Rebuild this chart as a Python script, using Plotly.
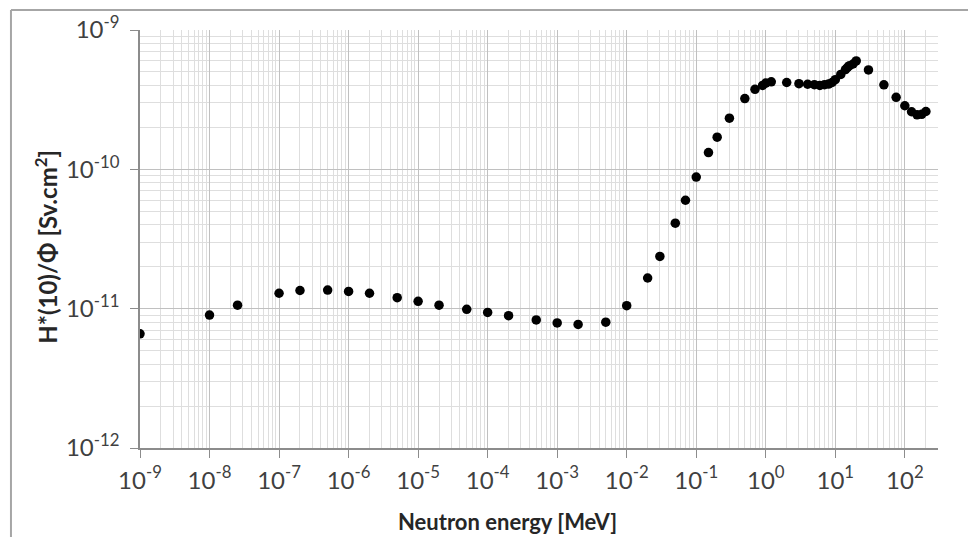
import plotly.graph_objects as go

# Neutron energy [MeV]
energy = [1e-9, 1e-8, 2.53e-8, 1e-7, 2e-7, 5e-7, 1e-6, 2e-6, 5e-6, 1e-5, 2e-5, 5e-5,
          1e-4, 2e-4, 5e-4, 1e-3, 2e-3, 5e-3, 1e-2, 2e-2, 3e-2, 5e-2, 7e-2, 0.1,
          0.15, 0.2, 0.3, 0.5, 0.7, 0.9, 1.0, 1.2, 2.0, 3.0, 4.0, 5.0, 6.0, 7.0,
          8.0, 9.0, 10.0, 12.0, 14.0, 15.0, 16.0, 18.0, 20.0,
          30.0, 50.0, 75.0, 100.0, 125.0, 150.0, 175.0, 201.0]
# H*(10)/Phi [Sv.cm2]
h10 = [6.60e-12, 9.00e-12, 1.06e-11, 1.29e-11, 1.35e-11, 1.36e-11, 1.33e-11, 1.29e-11,
       1.20e-11, 1.13e-11, 1.06e-11, 9.90e-12, 9.40e-12, 8.90e-12, 8.30e-12, 7.90e-12,
       7.70e-12, 8.00e-12, 1.05e-11, 1.66e-11, 2.37e-11, 4.11e-11, 6.00e-11, 8.80e-11,
       1.32e-10, 1.70e-10, 2.33e-10, 3.22e-10, 3.75e-10, 4.00e-10, 4.16e-10, 4.25e-10,
       4.20e-10, 4.12e-10, 4.08e-10, 4.05e-10, 4.00e-10, 4.05e-10, 4.09e-10, 4.20e-10,
       4.40e-10, 4.80e-10, 5.20e-10, 5.40e-10, 5.55e-10, 5.70e-10, 6.00e-10,
       5.17e-10, 4.04e-10, 3.29e-10, 2.86e-10, 2.59e-10, 2.46e-10, 2.48e-10, 2.60e-10]

x_tickvals = [1e-9, 1e-8, 1e-7, 1e-6, 1e-5, 1e-4, 1e-3, 1e-2, 1e-1, 1e0, 1e1, 1e2]
x_ticktext = ["10<sup>-9</sup>", "10<sup>-8</sup>", "10<sup>-7</sup>", "10<sup>-6</sup>",
              "10<sup>-5</sup>", "10<sup>-4</sup>", "10<sup>-3</sup>", "10<sup>-2</sup>",
              "10<sup>-1</sup>", "10<sup>0</sup>", "10<sup>1</sup>", "10<sup>2</sup>"]
y_tickvals = [1e-12, 1e-11, 1e-10, 1e-9]
y_ticktext = ["10<sup>-12</sup>", "10<sup>-11</sup>", "10<sup>-10</sup>", "10<sup>-9</sup>"]

x_title = "Neutron energy [MeV]"
y_title = "H*(10)/Φ [Sv.cm<sup>2</sup>]"

FONT = "Lato, 'Open Sans', sans-serif"
MAJOR = "#c0c0c0"
MINOR = "#dedede"
AXIS = "#8c8c8c"
TICKFONT = dict(size=24, family=FONT, color="#404040")

fig = go.Figure()
fig.add_trace(go.Scatter(
    x=energy, y=h10, mode="markers",
    marker=dict(color="black", size=9.5),
    showlegend=False,
))

fig.update_layout(
    width=968, height=537,
    margin=dict(l=140, r=30, t=30, b=89),
    paper_bgcolor="white", plot_bgcolor="white",
    font=dict(family=FONT, color="#404040"),
    xaxis=dict(
        type="log", range=[-9, 2.4771],
        tickmode="array", tickvals=x_tickvals, ticktext=x_ticktext,
        showgrid=True, gridcolor=MAJOR, gridwidth=1,
        minor=dict(showgrid=True, gridcolor=MINOR, gridwidth=1, dtick="D1"),
        showline=True, linecolor=AXIS, linewidth=1.5,
        ticks="outside", ticklen=8, tickcolor=AXIS, tickwidth=1,
        tickfont=TICKFONT, ticklabelstandoff=2,
        zeroline=False, fixedrange=True,
    ),
    yaxis=dict(
        type="log", range=[-12, -9],
        tickmode="array", tickvals=y_tickvals, ticktext=y_ticktext,
        showgrid=True, gridcolor=MAJOR, gridwidth=1,
        minor=dict(showgrid=True, gridcolor=MINOR, gridwidth=1, dtick="D1"),
        showline=True, linecolor=AXIS, linewidth=1.5,
        ticks="outside", ticklen=8, tickcolor=AXIS, tickwidth=1,
        tickfont=TICKFONT, ticklabelstandoff=6,
        zeroline=False, fixedrange=True,
    ),
    annotations=[
        dict(text="<b>" + x_title + "</b>", xref="paper", yref="paper",
             x=0.461, y=-0.175, xanchor="center", yanchor="middle",
             showarrow=False, font=dict(size=22, family=FONT, color="#262626")),
        dict(text="<b>" + y_title + "</b>", xref="paper", yref="paper",
             x=-0.118, y=0.481, xanchor="center", yanchor="middle", textangle=-90,
             showarrow=False, font=dict(size=24, family=FONT, color="#262626")),
    ],
    shapes=[
        dict(type="line", xref="paper", yref="paper", x0=-0.1617, x1=1.1, y0=1.0478, y1=1.0478,
             line=dict(color="#a6a6a6", width=2)),
        dict(type="line", xref="paper", yref="paper", x0=-0.1617, x1=-0.1617, y0=1.0478, y1=-0.3,
             line=dict(color="#a6a6a6", width=2)),
    ],
)

fig.write_html("out.html", config={"displayModeBar": False},
               post_script="document.body.style.margin='0';")
